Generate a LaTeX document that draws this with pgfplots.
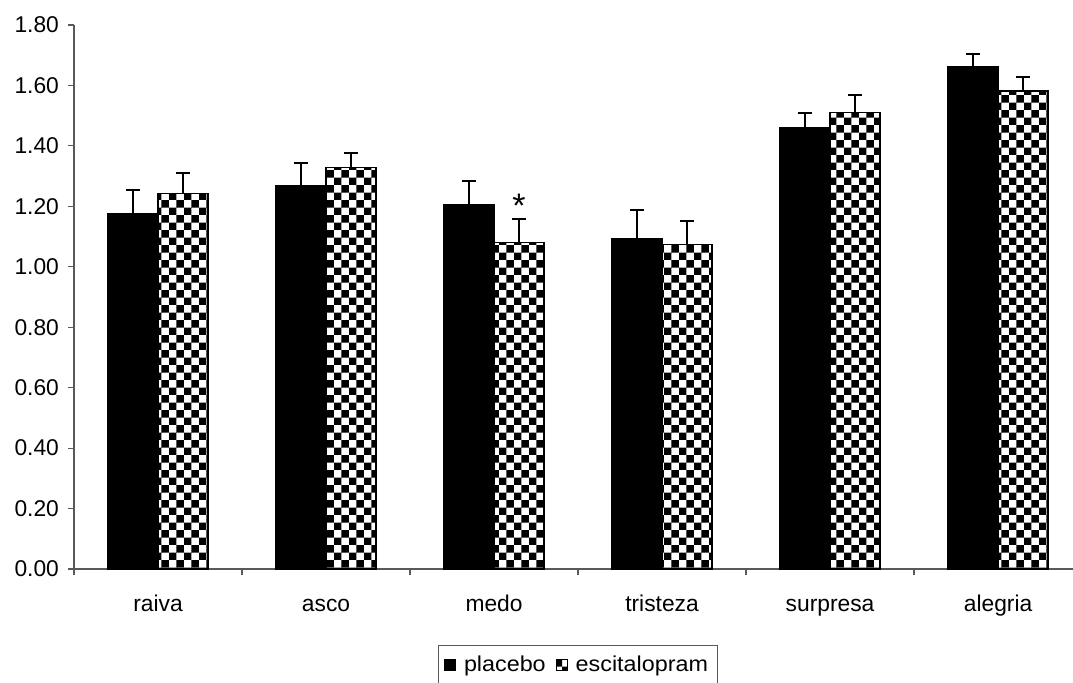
\documentclass[border=0pt]{standalone}
\usepackage{pgfplots}
\pgfplotsset{compat=1.18}
\usepackage{fontspec}
\setmainfont{Liberation Sans}
\newfontfamily\legendfont[FakeStretch=1.08]{Liberation Sans}
\usetikzlibrary{patterns.meta}

% coarse checkerboard for the escitalopram bars
\pgfdeclarepattern{
  name=coarsechecker,
  type=uncolored,
  bottom left={\pgfpointorigin},
  top right={\pgfpoint{7.7pt}{7.7pt}},
  tile size={\pgfpoint{7.7pt}{7.7pt}},
  code={
    \pgfpathrectangle{\pgfpointorigin}{\pgfpoint{3.85pt}{3.85pt}}
    \pgfpathrectangle{\pgfpoint{3.85pt}{3.85pt}}{\pgfpoint{3.85pt}{3.85pt}}
    \pgfusepath{fill}
  }
}

\begin{document}
\begin{tikzpicture}
\useasboundingbox (0,0) rectangle (536.5pt,341pt);
\begin{axis}[
  at={(37pt,56.5pt)}, anchor=south west,
  scale only axis, width=499.5pt, height=272pt,
  font=\fontsize{11.4}{13.5}\selectfont,
  axis x line*=bottom, axis y line*=left,
  axis line style={black!65, line width=0.6pt},
  xmin=-0.5, xmax=5.446,
  ymin=0, ymax=1.8,
  ytick={0,0.2,0.4,0.6,0.8,1.0,1.2,1.4,1.6,1.8},
  yticklabel style={/pgf/number format/fixed, /pgf/number format/precision=2,
    /pgf/number format/fixed zerofill, /pgf/number format/assume math mode=true},
  xtick={0,1,2,3,4,5},
  xticklabels={raiva,asco,medo,tristeza,surpresa,alegria},
  minor xtick={-0.5,0.5,1.5,2.5,3.5,4.5},
  major x tick style={draw=none},
  minor x tick style={draw=black!65, line width=0.6pt},
  y tick style={draw=black!65, line width=0.6pt},
  tick align=outside, major tick length=3pt, minor tick length=3pt,
  xticklabel style={anchor=base, yshift=-18pt},
  yticklabel style={xshift=-1pt},
  ybar=0pt, bar width=0.298,
  error bars/y dir=plus, error bars/y explicit,
  error bars/error mark=-,
  error bars/error bar style={black, line width=1pt},
  error bars/error mark options={black, line width=1pt, mark size=3.5pt, rotate=90},
  legend columns=2,
  legend style={at={(0.5045,-0.1397)}, anchor=north, draw=black!65,
    line width=0.5pt, font=\legendfont\fontsize{10.8}{13}\selectfont,
    inner xsep=3pt, inner ysep=3pt,
    /tikz/every odd column/.append style={column sep=2pt},
    /tikz/every even column/.append style={column sep=3pt}},
  legend image code/.code={
    \draw[#1, line width=0.5pt] (0pt,-2.75pt) rectangle (5.5pt,2.75pt);
  },
  clip=false,
]
\addplot[fill=black, draw=black, line width=0.6pt]
  coordinates {
    (0,1.177) +- (0,0.077)
    (1,1.268) +- (0,0.076)
    (2,1.207) +- (0,0.077)
    (3,1.092) +- (0,0.096)
    (4,1.462) +- (0,0.047)
    (5,1.662) +- (0,0.041)
  };
\addplot[pattern=coarsechecker, pattern color=black, draw=black, line width=0.75pt]
  coordinates {
    (0,1.243) +- (0,0.066)
    (1,1.328) +- (0,0.048)
    (2,1.081) +- (0,0.076)
    (3,1.074) +- (0,0.078)
    (4,1.510) +- (0,0.060)
    (5,1.582) +- (0,0.047)
  };
\legend{placebo,escitalopram}
% significance marker over medo / escitalopram
\node[anchor=base, inner sep=0pt, font=\fontsize{17}{19}\selectfont]
  at (axis cs:2.149,1.157) [yshift=1pt] {*};
\end{axis}
\end{tikzpicture}
\end{document}
